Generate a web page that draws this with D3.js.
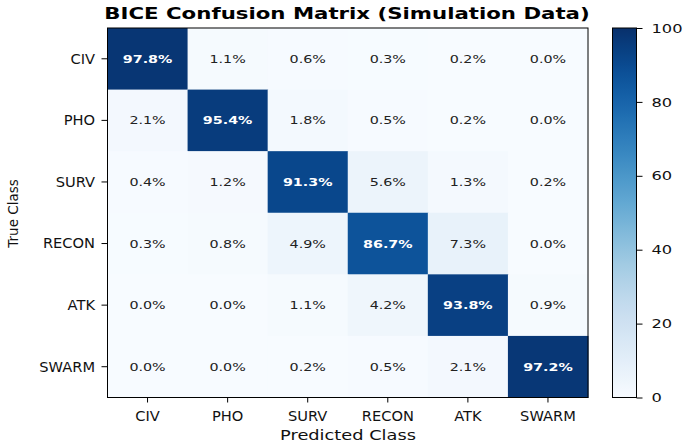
<!DOCTYPE html>
<html>
<head>
<meta charset="utf-8">
<script src="https://cdn.jsdelivr.net/npm/d3@7"></script>
<style>
  html, body { margin: 0; padding: 0; background: #fff; }
  svg { display: block; font-family: "DejaVu Sans", sans-serif; }
</style>
</head>
<body>
<svg id="chart" width="691" height="447"></svg>
<script>
const titleText = "BICE Confusion Matrix (Simulation Data)";
const xLabel = "Predicted Class";
const yLabel = "True Class";
const predictedClasses = ["CIV", "PHO", "SURV", "RECON", "ATK", "SWARM"];
const trueClasses = ["CIV", "PHO", "SURV", "RECON", "ATK", "SWARM"];
const rowCIV   = [97.8, 1.1, 0.6, 0.3, 0.2, 0.0];
const rowPHO   = [2.1, 95.4, 1.8, 0.5, 0.2, 0.0];
const rowSURV  = [0.4, 1.2, 91.3, 5.6, 1.3, 0.2];
const rowRECON = [0.3, 0.8, 4.9, 86.7, 7.3, 0.0];
const rowATK   = [0.0, 0.0, 1.1, 4.2, 93.8, 0.9];
const rowSWARM = [0.0, 0.0, 0.2, 0.5, 2.1, 97.2];
const matrixRows = [rowCIV, rowPHO, rowSURV, rowRECON, rowATK, rowSWARM];
const colorbarTicks = [0, 20, 40, 60, 80, 100];

const svg = d3.select("#chart");

const plot = { left: 107.5, right: 588, top: 28, bottom: 397.5 };
const cb = { left: 612.5, right: 636.5, top: 28, bottom: 397.5 };

const x = d3.scaleBand().domain(predictedClasses).range([plot.left, plot.right]).padding(0);
const y = d3.scaleBand().domain(trueClasses).range([plot.top, plot.bottom]).padding(0);
const color = d3.scaleSequential(d3.interpolateBlues).domain([0, 100]);

function stretchedText(parent, tx, ty, str, opts) {
  const g = parent.append("text")
    .attr("transform", `translate(${tx},${ty}) scale(${opts.sx || 1},1)` + (opts.rotate ? ` rotate(${opts.rotate})` : ""))
    .attr("text-anchor", opts.anchor || "middle")
    .attr("font-size", opts.size)
    .attr("font-weight", opts.weight || "normal")
    .attr("fill", opts.fill || "#000")
    .text(str);
  if (opts.dy) g.attr("dy", opts.dy);
  return g;
}

// cells
const cells = [];
matrixRows.forEach((row, i) => row.forEach((v, j) => cells.push({ r: trueClasses[i], c: predictedClasses[j], v })));

svg.append("g").selectAll("rect").data(cells).join("rect")
  .attr("x", d => x(d.c))
  .attr("y", d => y(d.r))
  .attr("width", x.bandwidth() + 0.5)
  .attr("height", y.bandwidth() + 0.5)
  .attr("fill", d => color(d.v));

const cellText = svg.append("g");
cells.forEach(d => {
  const hi = d.v > 50;
  stretchedText(cellText, x(d.c) + x.bandwidth() / 2, y(d.r) + y.bandwidth() / 2, d.v.toFixed(1) + "%", {
    size: 11, sx: 1.3, weight: hi ? "bold" : "normal", fill: hi ? "#ffffff" : "#222222", dy: "0.36em"
  });
});

// frame
svg.append("rect")
  .attr("x", plot.left).attr("y", plot.top)
  .attr("width", plot.right - plot.left).attr("height", plot.bottom - plot.top)
  .attr("fill", "none").attr("stroke", "#000").attr("stroke-width", 1);

// x axis
const xAxis = d3.axisBottom(x).tickSize(5).tickFormat("");
const gx = svg.append("g").attr("transform", `translate(0,${plot.bottom})`).call(xAxis);
gx.select(".domain").remove();
gx.selectAll(".tick line").attr("stroke", "#000");
predictedClasses.forEach(c => {
  stretchedText(svg, x(c) + x.bandwidth() / 2, 421, c, { size: 13.3, sx: 1.1, fill: "#111" });
});

// y axis
const yAxis = d3.axisLeft(y).tickSize(6).tickFormat("");
const gy = svg.append("g").attr("transform", `translate(${plot.left},0)`).call(yAxis);
gy.select(".domain").remove();
gy.selectAll(".tick line").attr("stroke", "#000");
trueClasses.forEach(c => {
  stretchedText(svg, 95, y(c) + y.bandwidth() / 2, c, { size: 13.3, sx: 1.1, anchor: "end", dy: "0.36em", fill: "#111" });
});

// labels
stretchedText(svg, 348, 440, xLabel, { size: 14, sx: 1.27, fill: "#111" });
stretchedText(svg, 17.5, 213.5, yLabel, { size: 13.5, sx: 1.05, rotate: -90, fill: "#111" });
stretchedText(svg, 347, 19.3, titleText, { size: 16.5, sx: 1.29, weight: "bold" });

// colorbar
const defs = svg.append("defs");
const grad = defs.append("linearGradient").attr("id", "cbgrad")
  .attr("x1", "0").attr("y1", "1").attr("x2", "0").attr("y2", "0");
d3.range(0, 101, 2).forEach(t => {
  grad.append("stop").attr("offset", t / 100).attr("stop-color", color(t));
});
svg.append("rect")
  .attr("x", cb.left).attr("y", cb.top)
  .attr("width", cb.right - cb.left).attr("height", cb.bottom - cb.top)
  .attr("fill", "url(#cbgrad)").attr("stroke", "#000").attr("stroke-width", 1);

const cbScale = d3.scaleLinear().domain([0, 100]).range([cb.bottom, cb.top]);
const cbAxis = d3.axisRight(cbScale).tickValues(colorbarTicks).tickSize(6).tickFormat("");
const gcb = svg.append("g").attr("transform", `translate(${cb.right},0)`).call(cbAxis);
gcb.select(".domain").remove();
gcb.selectAll(".tick line").attr("stroke", "#000");
colorbarTicks.forEach(t => {
  stretchedText(svg, 651.5, cbScale(t), String(t), { size: 13, sx: 1.25, anchor: "start", dy: "0.36em", fill: "#111" });
});
</script>
</body>
</html>
